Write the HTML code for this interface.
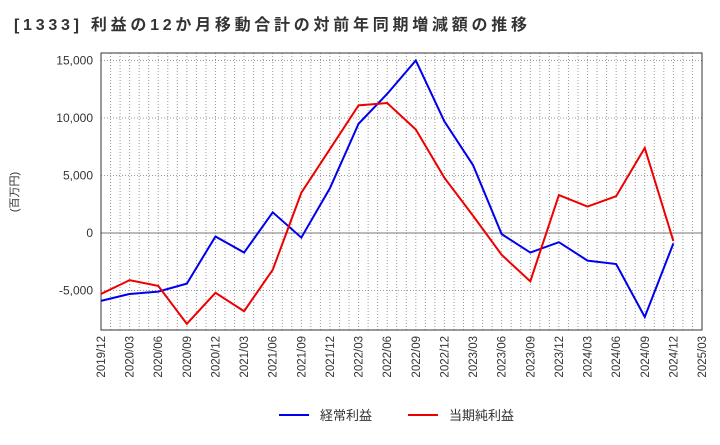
<!DOCTYPE html>
<html><head><meta charset="utf-8"><style>
body{margin:0;background:#fff;font-family:"Liberation Sans","Noto Sans CJK JP",sans-serif;}
svg text{font-family:"Liberation Sans","Noto Sans CJK JP",sans-serif;}
</style></head><body>
<svg id="c" width="720" height="440" xmlns="http://www.w3.org/2000/svg">
<text x="14" y="30" font-size="16" font-weight="bold" fill="#333" textLength="513" lengthAdjust="spacing">[1333]  利益の12か月移動合計の対前年同期増減額の推移</text>
<text transform="translate(18,192) rotate(-90)" font-size="11" fill="#333" text-anchor="middle">(百万円)</text>
</svg>
<script>
const categories=["2019/12","2020/03","2020/06","2020/09","2020/12","2021/03","2021/06","2021/09","2021/12","2022/03","2022/06","2022/09","2022/12","2023/03","2023/06","2023/09","2023/12","2024/03","2024/06","2024/09","2024/12","2025/03"];
const operatingProfit=[-5900,-5300,-5100,-4400,-300,-1700,1800,-400,3900,9500,12100,15000,9700,5900,-100,-1700,-800,-2400,-2700,-7300,-900];
const netProfit=[-5300,-4100,-4600,-7900,-5200,-6800,-3200,3500,7300,11100,11300,9000,4800,1500,-1900,-4200,3300,2300,3200,7400,-700];
const yTicks=[-5000,0,5000,10000,15000];
const tickLabels=["-5,000","0","5,000","10,000","15,000"];
const svg=document.getElementById('c');const NS="http://www.w3.org/2000/svg";
const L=101,R=702,T=53,B=330;
function x(i){return L+i*(R-L)/(categories.length-1);}
function y(v){return 233-v*57.5/5000;}
function mk(t,a,p){const e=document.createElementNS(NS,t);for(const k in a)e.setAttribute(k,a[k]);(p||svg).appendChild(e);return e;}
const grid=mk('g',{});


for(let m=1;m<(categories.length-1)*3;m++){const xx=L+m*(R-L)/((categories.length-1)*3);mk('line',{x1:xx,x2:xx,y1:T,y2:B,stroke:'#999','stroke-dasharray':'1,2','stroke-width':1},grid);}
yTicks.forEach((v,i)=>{
 mk('line',{x1:L,x2:R,y1:y(v),y2:y(v),stroke:v===0?'#777':'#999','stroke-dasharray':v===0?'':'1,2','stroke-width':1},grid);
 const t=mk('text',{x:L-8,y:y(v)+4,'font-size':12,fill:'#333','text-anchor':'end'});t.textContent=tickLabels[i];
 
 
});
mk('rect',{x:L,y:T,width:R-L,height:B-T,fill:'none',stroke:'#333','stroke-width':1});
categories.forEach((c,i)=>{const t=mk('text',{transform:`translate(${x(i)+4},${B+6}) rotate(-90)`,'font-size':11.5,fill:'#333','text-anchor':'end'});t.textContent=c;
 
 });
function line(d,col,name){const p=mk('polyline',{points:d.map((v,i)=>x(i)+','+y(v)).join(' '),fill:'none',stroke:col,'stroke-width':2});
 
 }
line(operatingProfit,'#0000ee','operating-profit-line');
line(netProfit,'#ee0000','net-profit-line');
const lg=mk('g',{});


mk('line',{x1:279,x2:309,y1:415,y2:415,stroke:'#0000ee','stroke-width':2},lg);
let t1=mk('text',{x:320,y:420,'font-size':13,fill:'#333'},lg);t1.textContent='経常利益';


mk('line',{x1:408,x2:438,y1:415,y2:415,stroke:'#ee0000','stroke-width':2},lg);
let t2=mk('text',{x:449,y:420,'font-size':13,fill:'#333'},lg);t2.textContent='当期純利益';


</script>
</body></html>
